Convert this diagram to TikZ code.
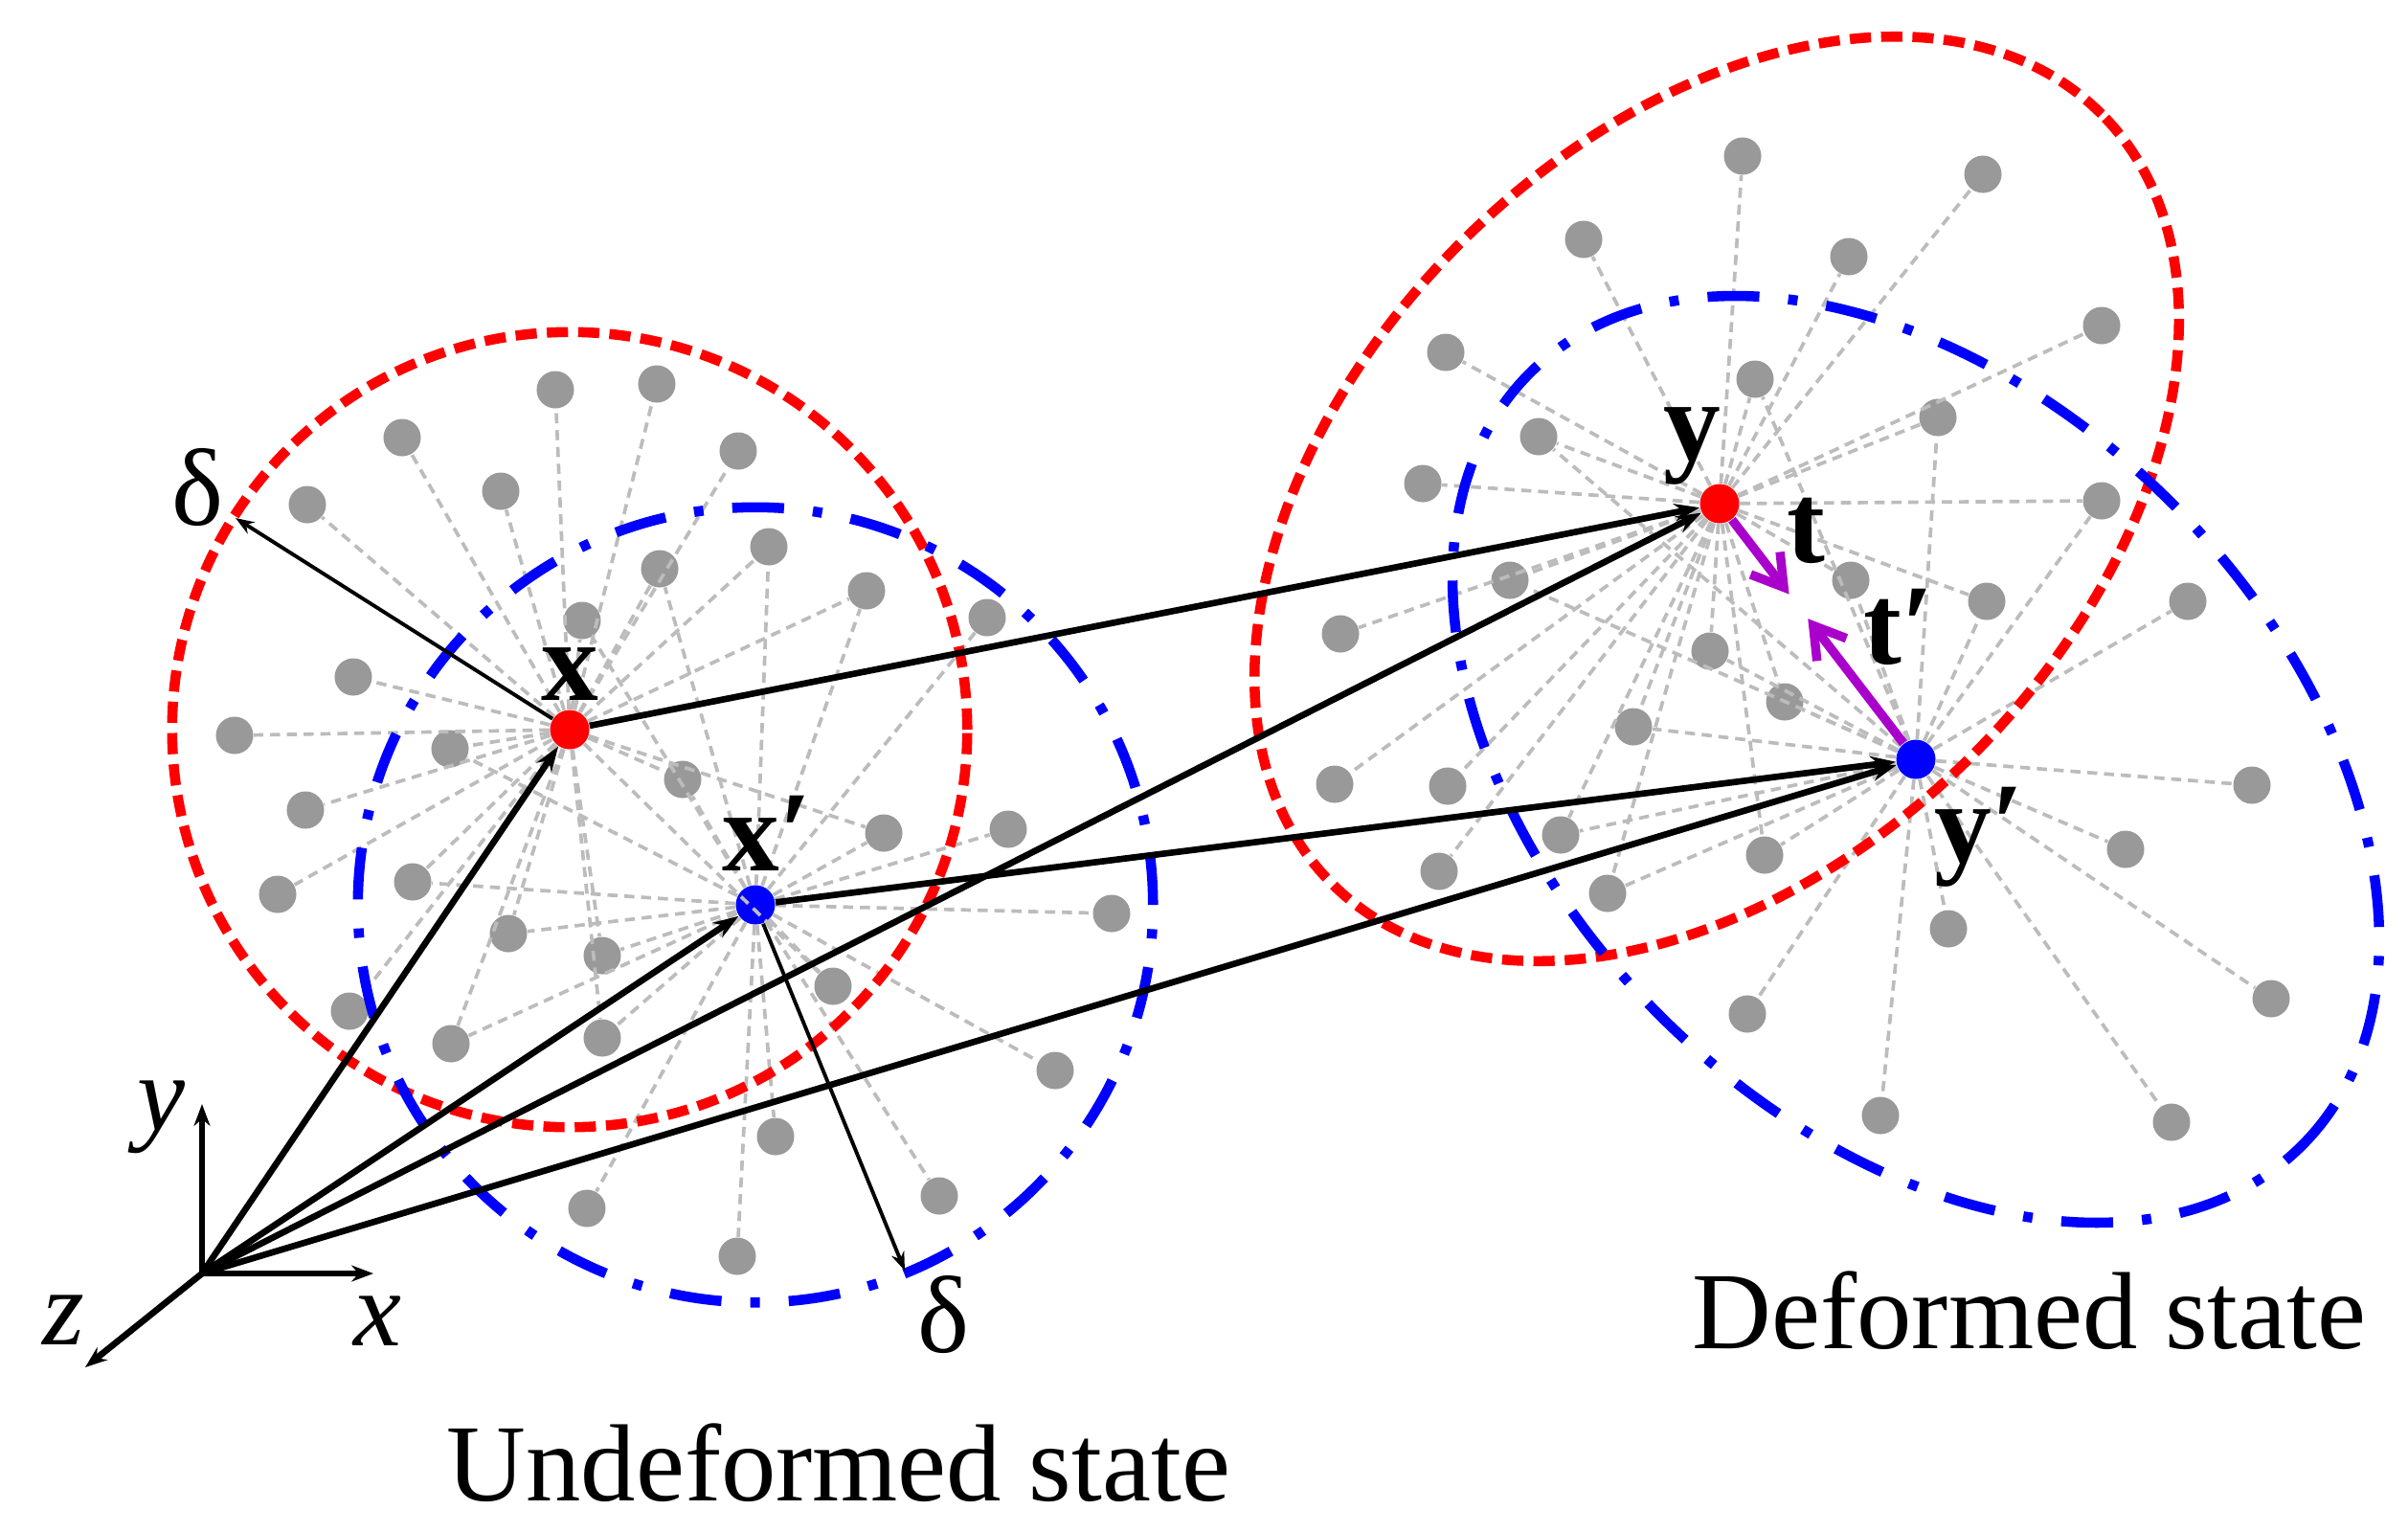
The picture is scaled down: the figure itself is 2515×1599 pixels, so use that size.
\documentclass[tikz,border=0pt]{standalone}
\usepackage{fontspec}
\setmainfont{Liberation Serif}
\usetikzlibrary{arrows.meta,calc}
\definecolor{dotgray}{RGB}{153,153,153}
\definecolor{bondgray}{RGB}{188,188,188}
\definecolor{tmag}{RGB}{170,0,204}
\definecolor{pred}{RGB}{255,0,0}
\definecolor{pblue}{RGB}{0,0,255}
\begin{document}
\begin{tikzpicture}[x=0.01cm,y=-0.01cm,
  gdot/.style={circle,fill=dotgray,minimum size=0.39cm,inner sep=0pt},
  cdot/.style={circle,minimum size=0.41cm,inner sep=0pt},
  bond/.style={draw=bondgray,line width=1.05pt,dash pattern=on 3pt off 2pt},
  hred/.style={draw=pred,line width=3pt,dash pattern=on 6.3pt off 3pt},
  hblue/.style={draw=pblue,line width=3pt,dash pattern=on 15.4pt off 8.6pt on 2.8pt off 8.6pt},
  vec/.style={draw=black,line width=1.9pt,-{Stealth[length=7.5pt,width=5.2pt]}},
  thinvec/.style={draw=black,line width=1.1pt,-{Stealth[length=5.5pt,width=4pt]}},
  axis/.style={draw=black,line width=1.9pt,-{Stealth[length=6.5pt,width=4.8pt]}},
  tvec/.style={draw=tmag,line width=2.7pt,-{Straight Barb[length=9pt,width=11pt]}},
  lbl/.style={inner sep=0pt,font=\fontsize{32.6}{38}\selectfont},
  blbl/.style={inner sep=0pt,font=\fontsize{34}{40}\selectfont\bfseries},
  ilbl/.style={inner sep=0pt,font=\fontsize{32}{38}\selectfont\itshape},
]
\useasboundingbox (0,0) rectangle (2515,1599);

% centres
\node[cdot,fill=pred]  (nx)  at (595,762) {};
\node[cdot,fill=pblue] (nxp) at (789,945) {};
\node[cdot,fill=pred]  (ny)  at (1796,526) {};
\node[cdot,fill=pblue] (nyp) at (2001,793) {};
\coordinate (O) at (211,1330);

% undeformed particles
\foreach \n/\px/\py in {1/580/407,2/686/401,3/420/457,4/771/471,5/321/527,6/523/513,
  7/689/594,8/803/571,9/905/617,10/608/648,11/1031/645,12/369/707,13/245/768,
  14/470/782,15/319/846,16/713/814,17/923/870,18/1053/866,19/290/934,20/431/921,
  21/1161/954,22/531/975,23/629/998,24/870/1030,25/365/1056,26/471/1090,
  27/629/1084,28/1102/1118,29/810/1187,30/613/1262,31/981/1249,32/770/1312}
  \node[gdot] (u\n) at (\px,\py) {};
% deformed particles
\foreach \n/\px/\py in {1/1820/163,2/2071/182,3/1654/250,4/1931/268,5/1510/368,
  6/2195/340,7/1833/396,8/2024/436,9/1607/456,10/1486/505,11/2195/523,12/1577/606,
  13/1933/606,14/1400/662,15/2075/628,16/2285/628,17/1786/680,18/1864/733,
  19/1706/759,20/1394/819,21/1512/821,22/1630/872,23/1843/893,24/2352/820,
  25/1503/910,26/1679/933,27/2220/887,28/2035/970,29/1825/1059,30/2372/1043,
  31/1964/1165,32/2268/1172}
  \node[gdot] (v\n) at (\px,\py) {};

% bonds
\foreach \n in {1,2,3,4,5,6,7,8,9,10,12,13,14,15,16,17,19,20,22,23,24,25,26,27}
  \draw[bond] (nx) -- (u\n);
\foreach \n in {7,8,9,10,11,14,16,17,18,20,21,22,23,24,26,27,28,29,30,31,32}
  \draw[bond] (nxp) -- (u\n);
\foreach \n in {1,2,3,4,5,6,7,8,9,10,11,12,13,14,15,17,18,19,20,21,22,23,25,26}
  \draw[bond] (ny) -- (v\n);
\foreach \n in {7,8,9,11,12,13,15,16,17,18,19,22,23,24,26,27,28,29,30,31,32}
  \draw[bond] (nyp) -- (v\n);

% horizons
\draw[hred]  (nx.center)  circle[radius=4.15cm];
\draw[hblue] (nxp.center) circle[radius=4.15cm];
\draw[hred]  (1793,521) ellipse[x radius=5.68cm, y radius=3.78cm, rotate=45];
\draw[hblue] (nyp.center) ellipse[x radius=5.70cm, y radius=3.78cm, rotate=-45];

% axes
\coordinate (ax) at (390,1330);
\coordinate (ay) at (211,1153);
\coordinate (az) at (89,1428);
\draw[axis] (O) -- (ax);
\draw[axis] (O) -- (ay);
\draw[axis] (O) -- (az);

% position vectors
\draw[vec] (O) -- (nx);
\draw[vec] (O) -- (nxp);
\draw[vec] (O) -- (ny);
\draw[vec] (O) -- (nyp);
\draw[vec] (nx) -- (ny);
\draw[vec] (nxp) -- (nyp);

% horizon radii
\coordinate (dtip1) at (246,541);
\coordinate (dtip2) at (945,1327);
\draw[thinvec] (nx) -- (dtip1);
\draw[thinvec] (nxp) -- (dtip2);

% force states
\coordinate (tt)  at ($(ny)!0.354!(nyp)$);
\coordinate (ttp) at ($(ny)!0.45!(nyp)$);
\draw[tvec] (ny) -- (tt);
\draw[tvec] (nyp) -- (ttp);

% labels
\node[blbl,anchor=base] (lx) at (595,731) {x};
\node[blbl,anchor=base west] (lxp) at (754,909) {x′};
\node[blbl,anchor=base west] (ly) at (1737,480) {y};
\node[blbl,anchor=base west] (lt) at (1866,587) {t};
\node[blbl,anchor=base west] (ltp) at (1946,693) {t′};
\node[blbl,anchor=base west] (lyp) at (2020,900) {y′};
\node[lbl,anchor=base] (ld1) at (207,548) {δ};
\node[lbl,anchor=base] (ld2) at (985,1412) {δ};
\node[ilbl,anchor=base] (lay) at (168,1180) {y};
\node[ilbl,anchor=base] (lax) at (394,1405) {x};
\node[ilbl,anchor=base] (laz) at (66,1404) {z};
\node[lbl,anchor=base west] (lu) at (466,1567) {Undeformed state};
\node[lbl,anchor=base west] (ldf) at (1767,1408) {Deformed state};
\end{tikzpicture}
\end{document}
